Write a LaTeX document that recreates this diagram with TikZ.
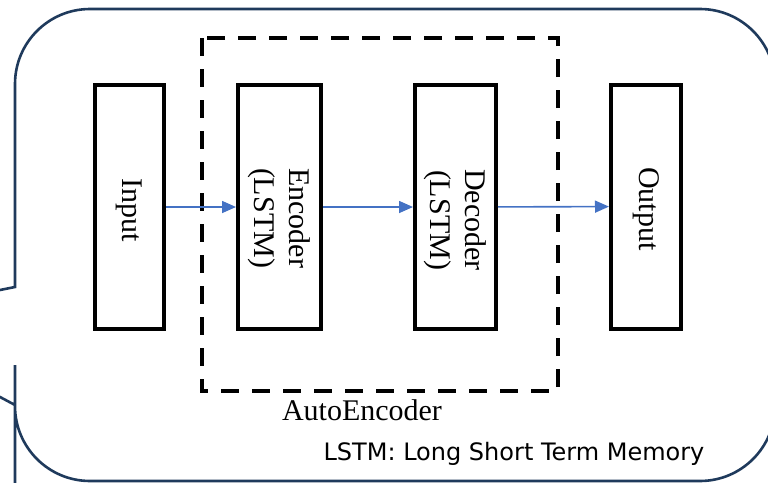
\documentclass[tikz,border=0pt]{standalone}
\usepackage{fontspec}
\setmainfont{Liberation Serif}
\newfontfamily\notefont{DejaVu Sans}
\usepackage{tikz}
\usetikzlibrary{arrows.meta,positioning}
\definecolor{bubbleline}{HTML}{1F3A5C}
\definecolor{flowblue}{HTML}{4472C4}
\tikzset{block/.style={draw,line width=2pt,minimum height=122pt,inner sep=0pt},
	vlabel/.style={rotate=-90,align=center,font=\fontsize{15}{17.5}\selectfont},
	flow/.style={draw=flowblue,line width=0.8pt,-{Triangle[length=7pt,width=6pt]}},
	frame/.style={draw,line width=2pt,dash pattern=on 9pt off 6.5pt}}

\begin{document}
\begin{tikzpicture}
	[x=0.5pt,y=-0.5pt]
	\clip (0,0) rectangle (768,483);
	\draw [bubbleline,line width=1.3pt] (15,287) -- (15,250)
		[rounded corners=37.5pt] -- (15,9) -- (775,9) -- (775,481) -- (15,481) -- (15,440)
		[sharp corners] -- (15,405) -- (-146,319) -- cycle;
	\node [block,minimum width=34.5pt] (inp) at (129.5,207) {};
	\node [vlabel] (inp-txt) at (129,210) {Input};
	\node [block,minimum width=41.5pt] (enc) at (279.5,207) {};
	\node [vlabel] (enc-txt) at (279.5,218) {Encoder\\(LSTM)};
	\node [block,minimum width=40.5pt] (dec) at (455.5,207) {};
	\node [vlabel] (dec-txt) at (455.5,220) {Decoder\\(LSTM)};
	\node [block,minimum width=35pt] (out) at (646,206.5) {};
	\node [vlabel] (out-txt) at (646,209) {Output};
	\draw [frame] (202,38) rectangle (558,391);
	\draw [flow] (inp) -- (enc);
	\draw [flow] (enc) -- (dec);
	\draw [flow] (dec) -- (out);
	\node [font=\fontsize{15}{17.5}\selectfont,anchor=base] (ae-txt) at (362,420) {AutoEncoder};
	\node [font=\notefont\fontsize{12}{14}\selectfont,anchor=base] (note) at (514,460) {LSTM: Long Short Term Memory};
\end{tikzpicture}
\end{document}
